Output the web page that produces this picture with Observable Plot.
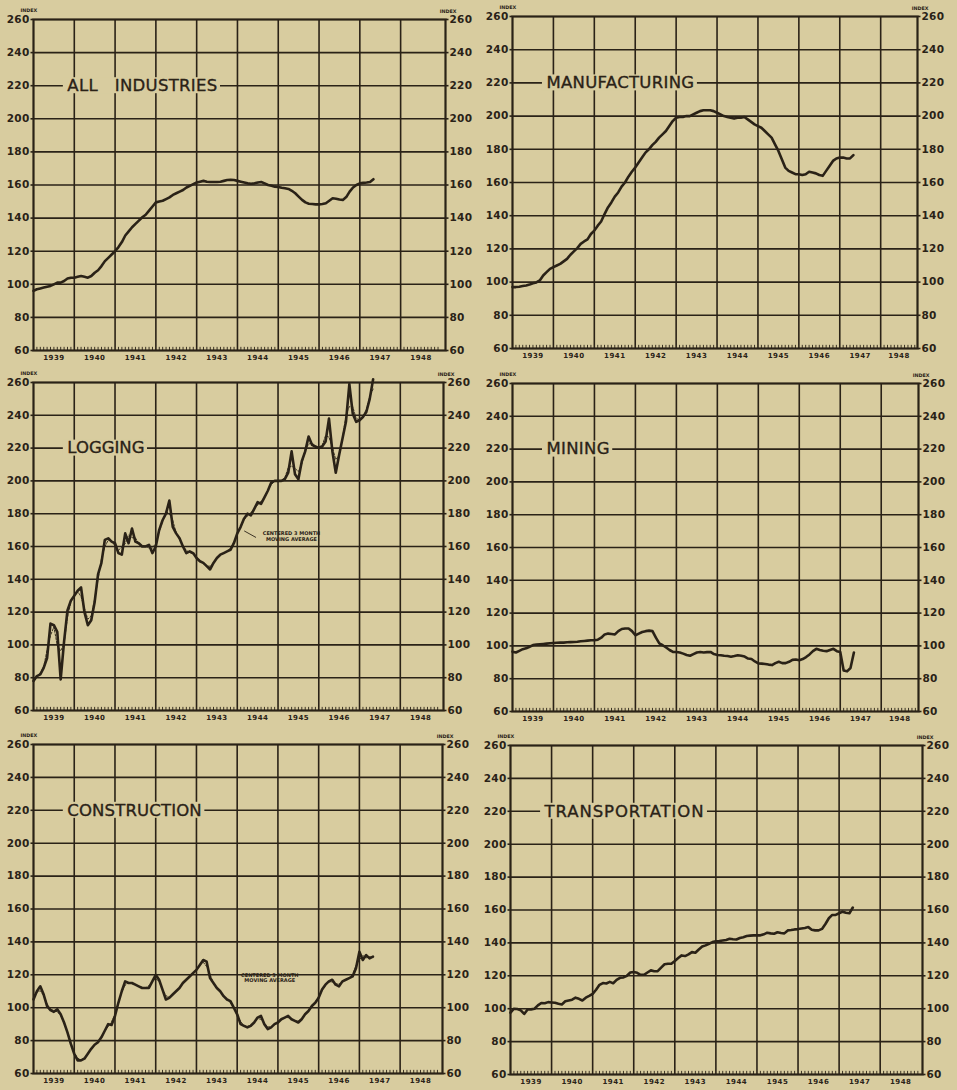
<!DOCTYPE html>
<html>
<head>
<meta charset="utf-8">
<script src="https://cdn.jsdelivr.net/npm/d3@7"></script>
<script src="https://cdn.jsdelivr.net/npm/@observablehq/plot@0.6"></script>
<style>
  html, body { margin: 0; padding: 0; background: #d8cc9f; }
  #page { position: relative; width: 957px; height: 1090px; overflow: hidden; background: #d8cc9f; }
  .panel { position: absolute; }
  .panel svg { overflow: visible; }
</style>
</head>
<body>
<div id="page"></div>
<script>
// ---------- DATA (monthly index values, Jan 1939 – May 1947) ----------
const startYear = 1939;
const yTicks = [60, 80, 100, 120, 140, 160, 180, 200, 220, 240, 260];
const yearLabels = [1939, 1940, 1941, 1942, 1943, 1944, 1945, 1946, 1947, 1948];

const allIndustries = [
  96, 97, 97.5, 98, 98.5, 99, 100, 101, 101, 102, 103.5, 104,
  104, 104.5, 105, 104.5, 104, 105, 107, 108.5, 111, 114, 116, 118,
  120, 122.5, 125.5, 129.5, 132, 134.5, 136.5, 138.5, 140.5, 142, 144.5, 147,
  149.5, 150, 150.5, 151.5, 152.5, 154, 155, 156, 157, 158.5, 159.5, 160.5,
  161.5, 162, 162.5, 162, 161.8, 161.8, 161.8, 162, 162.5, 163, 163.2, 163,
  162.5, 162, 161.5, 161, 160.8, 161, 161.5, 161.8, 161, 160, 159.5, 159,
  158.8, 158.3, 158, 157.6, 156.5, 155, 153, 151, 149.5, 148.7, 148.5, 148.3,
  148.3, 148.5, 149, 150.5, 152, 151.7, 151.2, 151, 152.7, 156, 158.5, 160,
  161, 161.3, 161.5, 161.8, 163.5
];
const manufacturing = [
  97, 97, 97.2, 97.6, 98, 98.5, 99.3, 99.8, 101, 104, 106, 108,
  109, 110, 111, 112.5, 114, 116.5, 118.5, 120.5, 123, 124.5, 125.7, 129,
  131, 134, 136.5, 141, 145, 148, 151.5, 154, 157.5, 160, 163.5, 166.5,
  169, 172, 175, 178, 180, 182.5, 184.5, 187, 189, 191, 194, 197,
  199, 199.5, 199.5, 200, 200, 201, 202, 203, 203.5, 203.5, 203.5, 203,
  202, 201, 200, 199.5, 199, 198.5, 199, 199, 199.5, 198, 196.5, 195,
  194, 193, 191, 189, 187, 183, 179, 174, 169, 167, 166, 165,
  165, 164.5, 165, 166.5, 166, 165.5, 164.5, 164, 167, 170, 173, 174.5,
  175, 175, 174.5, 174.5, 176.5
];
const logging = [
  78, 81, 82, 86, 92, 113, 112, 108, 79, 102, 121, 127,
  130, 133, 135, 120, 112, 115, 126, 143, 150, 164, 165, 163,
  162, 156, 155, 168, 162, 171, 163, 162, 160, 160, 161, 156,
  160, 170, 176, 180, 188, 172, 168, 165, 160, 156, 157, 156,
  153, 151, 150, 148, 146, 150, 153, 155, 156, 157, 158, 162,
  168, 172, 177, 180, 179, 183, 187, 186, 190, 194, 199, 200,
  200, 200, 201, 205, 218, 204, 201, 212, 218, 227, 222, 221,
  220, 221, 224, 238, 218, 205, 216, 226, 236, 259, 241, 236,
  237, 239, 242, 250, 262
];
const mining = [
  96.5, 96, 97, 98, 98.5, 99.5, 100.5, 100.8, 101, 101.2, 101.4, 101.6,
  101.8, 101.9, 102, 102, 102.2, 102.3, 102.4, 102.5, 102.8, 103, 103.2, 103.4,
  103.5, 103.8, 105, 107, 107.5, 107.3, 107, 109, 110.3, 110.6, 110.6, 109,
  106.5, 107.5, 108.5, 109, 109.3, 109, 105, 101.5, 100.4, 99, 97.5, 96.3,
  96.3, 96, 95.3, 94.5, 94, 95, 96, 96.3, 96, 96.2, 96.3, 95,
  94.5, 94.3, 94, 93.8, 93.4, 93.8, 94.3, 94, 93.5, 92.3, 92, 90.5,
  89.3, 89.2, 89, 88.6, 88.3, 89.5, 90.3, 89.5, 89.5, 90.3, 91.5, 91.7,
  91.3, 92, 93.2, 94.8, 96.8, 98.2, 97.5, 97, 96.8, 97.5, 98.2, 96.8,
  96.3, 85, 84.5, 86.5, 96
];
const construction = [
  105, 110, 113, 108, 101, 98.5, 97.5, 99, 96, 91, 85, 78,
  72, 68, 68, 69, 72, 75, 77.5, 79, 82, 86, 90, 89.5,
  95, 103, 110, 116, 115, 115, 114, 113, 112, 112, 112, 116,
  120, 117, 111, 105, 106, 108, 110, 112, 115, 117, 119, 121,
  123, 126, 129, 128, 118, 115, 112, 110, 107, 105, 104, 100,
  96, 90, 89, 88, 89, 91, 94, 95, 90, 87, 88, 90,
  91, 93, 94, 95, 93, 92, 91, 93, 96, 98, 101, 103,
  106, 111, 114, 116, 117, 114, 113, 116, 117, 118, 119, 124,
  134, 129, 132, 130, 131
];
const transportation = [
  97.6, 100, 99.8, 99, 96.8, 99.5, 99.6, 100, 102, 103.5, 103.3, 104,
  103.8, 103.6, 103, 102.6, 104.5, 105, 105.5, 106.7, 106, 105, 106.7, 107.8,
  109, 111.5, 114.5, 115.6, 115.3, 116.3, 115.5, 117.5, 118.8, 119, 120, 122,
  122.3, 121.8, 120.6, 120.6, 122, 123.3, 122.8, 122.8, 125, 127, 127.3, 127.3,
  129, 130.8, 132.4, 132, 133, 134.4, 134, 136, 137.8, 138.5, 139.5, 140.5,
  141, 141.2, 141.5, 141.8, 142.5, 142.2, 142.1, 143, 143.5, 144.2, 144.4, 144.6,
  144.6, 144.6, 145.2, 146.2, 145.8, 145.6, 146.5, 146, 145.8, 147.6, 147.8, 148.2,
  148.4, 148.8, 149.1, 149.6, 148, 147.6, 147.6, 148.5, 151.5, 155, 157, 157,
  158, 159, 158.3, 158, 161.5
];
const titles = ["ALL\u2003INDUSTRIES", "MANUFACTURING", "LOGGING", "MINING", "CONSTRUCTION", "TRANSPORTATION"];
const noteLines = ["CENTERED 3 MONTH", "MOVING AVERAGE"];

// ---------- LAYOUT ----------
const ink = "#2a2217";
const bg = "#d8cc9f";
const titleFont = "16.5px 'DejaVu Sans'";
const panels = [
  {title: titles[0], values: allIndustries, left: 0,   top: 0,   width: 478, height: 362, ml: 33, mr: 33, mt: 19, mb: 12, xEnd: 1949.1, ls: 0.3},
  {title: titles[1], values: manufacturing, left: 477, top: 0,   width: 480, height: 362, ml: 35, mr: 40, mt: 16, mb: 14, xEnd: 1948.9, ls: 0.3},
  {title: titles[2], values: logging,       left: 0,   top: 362, width: 478, height: 362, ml: 33, mr: 35, mt: 20, mb: 14, xEnd: 1949.06, ls: 0,
     ma: true, note: {x: 1945.33, y1: 168, y2: 164.5, leader: {x1: 1944.17, y1: 169.5, x2: 1944.46, y2: 165.5}}},
  {title: titles[3], values: mining,        left: 477, top: 362, width: 480, height: 362, ml: 35, mr: 39, mt: 21, mb: 13, xEnd: 1948.91, ls: 0.3},
  {title: titles[4], values: construction,  left: 0,   top: 724, width: 478, height: 366, ml: 33, mr: 36, mt: 20, mb: 17, xEnd: 1949.04, ls: 0.15,
     ma: true, note: {x: 1944.8, y1: 119.5, y2: 116.3}},
  {title: titles[5], values: transportation,left: 477, top: 724, width: 480, height: 366, ml: 33, mr: 35, mt: 21, mb: 16, xEnd: 1949.03, ls: 0.9}
];

const page = document.getElementById("page");
const measureCtx = document.createElement("canvas").getContext("2d");

function makePanel(p) {
  const data = p.values.map((v, i) => ({date: startYear + i / 12, value: v}));
  const yearGrid = yearLabels.slice(1).map(y => ({x: y}));
  const hGrid = yTicks.slice(1, -1).map(v => ({y: v}));
  const labelPos = yearLabels.map(y => (y + Math.min(y + 1, p.xEnd)) / 2);
  const monthTicks = d3.range(1, 121).map(i => startYear + i / 12).filter((t, i) => (i + 1) % 12 !== 0 && t < p.xEnd - 0.02);

  // title background box (sized from the measured text width)
  const pxPerYear = (p.width - p.ml - p.mr) / (p.xEnd - startYear);
  const pxPerUnit = (p.height - p.mt - p.mb) / 200;
  measureCtx.font = titleFont;
  const titleW = measureCtx.measureText(p.title).width + p.ls * p.title.length;
  const titleX = 1939.83;
  const box = [{
    x1: titleX - 4 / pxPerYear,
    x2: titleX + (titleW + 3) / pxPerYear,
    y1: 220 - 8 / pxPerUnit,
    y2: 220 + 8 / pxPerUnit
  }];

  const marks = [
    Plot.ruleY(hGrid, {y: "y", x1: startYear, x2: p.xEnd, stroke: ink, strokeWidth: 1.6}),
    Plot.ruleX(yearGrid, {x: "x", y1: 60, y2: 260, stroke: ink, strokeWidth: 1.6}),
    Plot.ruleX(monthTicks, {x: d => d, y1: 60, y2: 61.9, stroke: ink, strokeWidth: 0.9}),
    Plot.frame({stroke: ink, strokeWidth: 2.2}),
    Plot.rect(box, {x1: "x1", x2: "x2", y1: "y1", y2: "y2", fill: bg}),
    Plot.text([p.title], {x: titleX, y: 220, text: d => d, textAnchor: "start", fontSize: 16.5,
      fontFamily: "DejaVu Sans", fill: ink, stroke: ink, strokeWidth: 0.35}),
    Plot.axisY({anchor: "left", ticks: yTicks, tickSize: 2.5, tickPadding: 1.5, fontSize: 10.5, fontWeight: "bold",
      tickFormat: d => String(d), label: null, stroke: ink, fill: ink, strokeWidth: 1.6}),
    Plot.axisY({anchor: "right", ticks: yTicks, tickSize: 2.5, tickPadding: 1.5, fontSize: 10.5, fontWeight: "bold",
      tickFormat: d => String(d), label: null, stroke: ink, fill: ink, strokeWidth: 1.6}),
    Plot.axisX({anchor: "bottom", ticks: labelPos, tickSize: 0, tickPadding: 5, fontSize: 7, fontWeight: "bold",
      tickFormat: (d, i) => String(yearLabels[i]), label: null, fill: ink}),
    Plot.text(["INDEX"], {frameAnchor: "top-left", dx: -13, dy: -11, fontSize: 4.8, fontWeight: "bold", fill: ink}),
    Plot.text(["INDEX"], {frameAnchor: "top-right", dx: 11, dy: -10, fontSize: 4.8, fontWeight: "bold", fill: ink})
  ];
  if (p.ma) {
    marks.push(Plot.line(data, Plot.windowY({k: 3, anchor: "middle", reduce: "mean"},
      {x: "date", y: "value", stroke: ink, strokeWidth: 0.9, strokeDasharray: "2.2,1.6"})));
  }
  marks.push(Plot.line(data, {x: "date", y: "value", stroke: ink, strokeWidth: 2.6, strokeLinejoin: "round", strokeLinecap: "round"}));
  if (p.note) {
    marks.push(Plot.text([noteLines[0]], {x: p.note.x, y: p.note.y1, text: d => d, fontSize: 5, fontWeight: "bold", fill: ink}));
    marks.push(Plot.text([noteLines[1]], {x: p.note.x, y: p.note.y2, text: d => d, fontSize: 5, fontWeight: "bold", fill: ink}));
    if (p.note.leader) {
      marks.push(Plot.link([p.note.leader], {x1: "x1", y1: "y1", x2: "x2", y2: "y2", stroke: ink, strokeWidth: 0.9}));
    }
  }

  const chart = Plot.plot({
    width: p.width,
    height: p.height,
    marginLeft: p.ml,
    marginRight: p.mr,
    marginTop: p.mt,
    marginBottom: p.mb,
    x: {type: "linear", domain: [startYear, p.xEnd]},
    y: {type: "linear", domain: [60, 260]},
    style: {background: "transparent", fontFamily: "DejaVu Sans", color: ink, overflow: "visible", maxWidth: "none"},
    marks
  });
  chart.querySelectorAll('g[aria-label="x-axis tick label"]').forEach(g => g.setAttribute("letter-spacing", "0.5"));
  chart.querySelectorAll('g[aria-label="y-axis tick label"]').forEach(g => g.setAttribute("letter-spacing", "0.3"));
  chart.querySelectorAll('g[aria-label="text"]').forEach(g => {
    if (g.textContent === p.title) g.setAttribute("letter-spacing", String(p.ls));
  });
  const div = document.createElement("div");
  div.className = "panel";
  div.style.left = p.left + "px";
  div.style.top = p.top + "px";
  div.appendChild(chart);
  page.appendChild(div);
}

panels.forEach(makePanel);
</script>
</body>
</html>
